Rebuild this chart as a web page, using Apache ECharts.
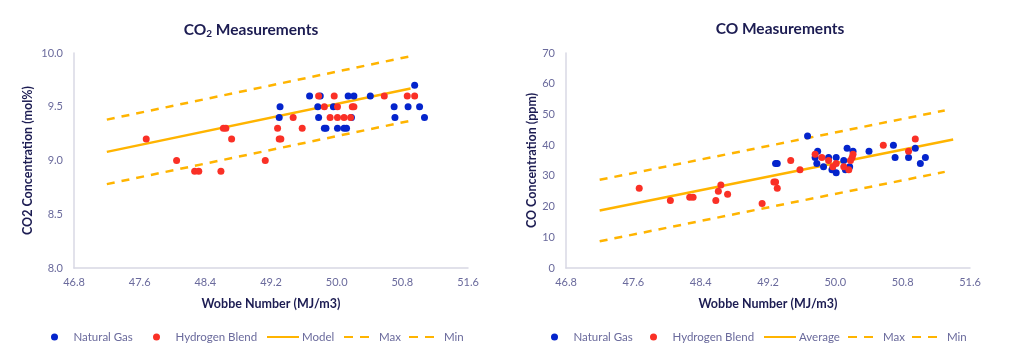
<!DOCTYPE html>
<html>
<head>
<meta charset="utf-8">
<script src="https://cdn.jsdelivr.net/npm/echarts@6/dist/echarts.min.js"></script>
<style>
html,body{margin:0;padding:0;background:#fff;}
#chart{width:1012px;height:361px;}
</style>
</head>
<body>
<div id="chart"></div>
<script>
// ---- Data ----
const xTicks = [46.8, 47.6, 48.4, 49.2, 50.0, 50.8, 51.6];

// CO2 chart
const co2NaturalGas = [
  [49.31,9.5],[49.30,9.4],[49.67,9.6],[49.80,9.6],[49.77,9.5],[49.78,9.4],[49.85,9.3],[49.87,9.3],
  [49.96,9.5],[50.01,9.3],[50.09,9.3],[50.12,9.3],[50.14,9.6],[50.21,9.6],[50.18,9.4],[50.41,9.6],
  [50.70,9.5],[50.71,9.4],[50.87,9.5],[50.95,9.7],[51.01,9.5],[51.07,9.4]
];
const co2HydrogenBlend = [
  [47.68,9.2],[48.05,9.0],[48.27,8.9],[48.32,8.9],[48.59,8.9],[48.62,9.3],[48.65,9.3],[48.72,9.2],
  [49.13,9.0],[49.28,9.3],[49.30,9.2],[49.32,9.2],[49.47,9.4],[49.58,9.3],[49.78,9.6],[49.85,9.5],
  [49.92,9.4],[49.97,9.6],[50.01,9.5],[50.01,9.4],[50.09,9.4],[50.17,9.4],[50.19,9.5],[50.21,9.5],
  [50.58,9.6],[50.86,9.6],[50.95,9.6]
];
const co2LineX = [47.2, 50.9];
const co2Model = [9.08, 9.67];
const co2Max = [9.38, 9.97];
const co2Min = [8.78, 9.37];

// CO chart
const coNaturalGas = [
  [49.29,34],[49.31,34],[49.67,43],[49.76,36],[49.79,38],[49.78,34],[49.86,33],[49.92,36],
  [49.96,32],[50.01,36],[50.01,31],[50.10,35],[50.12,32],[50.14,39],[50.17,33],[50.21,38],
  [50.40,38],[50.69,40],[50.71,36],[50.87,36],[50.95,39],[51.01,34],[51.07,36]
];
const coHydrogenBlend = [
  [47.67,26],[48.04,22],[48.27,23],[48.31,23],[48.58,22],[48.61,25],[48.64,27],[48.72,24],
  [49.13,21],[49.27,28],[49.29,28],[49.31,26],[49.47,35],[49.58,32],[49.76,37],[49.84,36],
  [49.92,35],[49.97,33],[50.01,34],[50.10,33],[50.16,32],[50.18,35],[50.20,36],[50.21,37],
  [50.57,40],[50.87,38],[50.95,42]
];
const coAvgX = [47.2, 51.4];
const coAverage = [18.7, 41.85];
const coBandX = [47.2, 51.3];
const coMax = [28.7, 51.3];
const coMin = [8.7, 31.3];

// ---- Styling ----
const FONT = 'Lato';
const BLUE = '#0424CC';
const RED = '#FA3026';
const GOLD = '#FFB400';
const LABEL = '#6A6A9C';
const NAVY = '#1C1C52';
const AXIS = '#D8D8E4';

function pairs(xs, ys){ return xs.map((x,i)=>[x, ys[i]]); }

function xAxisCfg(gi){
  return {
    type:'value', gridIndex:gi, min:46.8, max:51.6,
    name:'Wobbe Number (MJ/m3)', nameLocation:'middle', nameGap:29,
    nameTextStyle:{fontFamily:FONT, fontSize:12.5, fontWeight:'bold', color:NAVY},
    axisLine:{show:true, lineStyle:{color:AXIS, width:1.5}},
    axisTick:{show:false},
    splitLine:{show:false},
    axisLabel:{customValues:xTicks, formatter:v=>v.toFixed(1), color:LABEL, fontFamily:FONT, fontSize:11, margin:9}
  };
}

const scatterCommon = {type:'scatter', symbolSize:7, z:3};
const lineCommon = {type:'line', symbol:'none', z:2, silent:true};

// one legend component per entry, so each entry sits where the reference has it
function legendItem(left, name, kind){
  const cfg = {
    left:left, top:331, padding:0, itemWidth:32, itemHeight:7,
    textStyle:{fontFamily:FONT, fontSize:11.5, color:LABEL, padding:[0,0,0,-2]},
    selectedMode:false
  };
  if (kind === 'dot') {
    cfg.data = [{name:name, icon:'circle'}];
  } else {
    cfg.data = [{name:name, itemStyle:{opacity:0}}];
    if (kind === 'dash') cfg.lineStyle = {type:[9,7]};
  }
  return cfg;
}

const option = {
  animation:false,
  backgroundColor:'#fff',
  title:[
    {text:'CO{s|2} Measurements', left:246, top:16, textAlign:'center',
     textStyle:{fontFamily:FONT, fontSize:15.5, fontWeight:'bold', color:NAVY,
       rich:{s:{fontFamily:FONT, fontSize:10, fontWeight:'bold', color:NAVY, verticalAlign:'bottom', padding:[8,0,0,0]}}}},
    {text:'CO Measurements', left:775, top:16, textAlign:'center',
     textStyle:{fontFamily:FONT, fontSize:15.5, fontWeight:'bold', color:NAVY}}
  ],
  legend:[
    legendItem(51, 'Natural Gas', 'dot'),
    legendItem(153, 'Hydrogen Blend', 'dot'),
    legendItem(266, 'Model', 'solid'),
    legendItem(343, 'Max', 'dash'),
    legendItem(408, 'Min', 'dash'),
    legendItem(551, 'Natural Gas', 'dot'),
    legendItem(650, 'Hydrogen Blend', 'dot'),
    legendItem(763, 'Average', 'solid'),
    legendItem(847, 'Max', 'dash'),
    legendItem(911, 'Min', 'dash')
  ],
  grid:[
    {left:74, top:53, width:394, height:215},
    {left:566, top:53, width:404, height:215}
  ],
  xAxis:[xAxisCfg(0), xAxisCfg(1)],
  yAxis:[
    {type:'value', gridIndex:0, min:8, max:10, interval:0.5,
     name:'CO2 Concentration (mol%)', nameLocation:'middle', nameGap:40,
     nameTextStyle:{fontFamily:FONT, fontSize:12.5, fontWeight:'bold', color:NAVY},
     axisLine:{show:true, lineStyle:{color:AXIS, width:1.5}}, axisTick:{show:false}, splitLine:{show:false},
     axisLabel:{formatter:v=>v.toFixed(1), color:LABEL, fontFamily:FONT, fontSize:11, margin:11}},
    {type:'value', gridIndex:1, min:0, max:70, interval:10,
     name:'CO Concentration (ppm)', nameLocation:'middle', nameGap:25,
     nameTextStyle:{fontFamily:FONT, fontSize:12.5, fontWeight:'bold', color:NAVY},
     axisLine:{show:true, lineStyle:{color:AXIS, width:1.5}}, axisTick:{show:false}, splitLine:{show:false},
     axisLabel:{color:LABEL, fontFamily:FONT, fontSize:11, margin:11}}
  ],
  series:[
    Object.assign({}, lineCommon, {name:'Model', xAxisIndex:0, yAxisIndex:0, data:pairs(co2LineX, co2Model),
      lineStyle:{color:GOLD, width:2.5}, itemStyle:{color:GOLD}}),
    Object.assign({}, lineCommon, {name:'Max', xAxisIndex:0, yAxisIndex:0, data:pairs(co2LineX, co2Max),
      lineStyle:{color:GOLD, width:2.5, type:[8,7]}, itemStyle:{color:GOLD}}),
    Object.assign({}, lineCommon, {name:'Min', xAxisIndex:0, yAxisIndex:0, data:pairs(co2LineX, co2Min),
      lineStyle:{color:GOLD, width:2.5, type:[8,7]}, itemStyle:{color:GOLD}}),
    Object.assign({}, scatterCommon, {name:'Natural Gas', xAxisIndex:0, yAxisIndex:0, data:co2NaturalGas, itemStyle:{color:BLUE, opacity:1}}),
    Object.assign({}, scatterCommon, {name:'Hydrogen Blend', xAxisIndex:0, yAxisIndex:0, data:co2HydrogenBlend, itemStyle:{color:RED, opacity:1}}),

    Object.assign({}, lineCommon, {name:'Average', xAxisIndex:1, yAxisIndex:1, data:pairs(coAvgX, coAverage),
      lineStyle:{color:GOLD, width:2.5}, itemStyle:{color:GOLD}}),
    Object.assign({}, lineCommon, {name:'Max', xAxisIndex:1, yAxisIndex:1, data:pairs(coBandX, coMax),
      lineStyle:{color:GOLD, width:2.5, type:[8,7]}, itemStyle:{color:GOLD}}),
    Object.assign({}, lineCommon, {name:'Min', xAxisIndex:1, yAxisIndex:1, data:pairs(coBandX, coMin),
      lineStyle:{color:GOLD, width:2.5, type:[8,7]}, itemStyle:{color:GOLD}}),
    Object.assign({}, scatterCommon, {name:'Natural Gas', xAxisIndex:1, yAxisIndex:1, data:coNaturalGas, itemStyle:{color:BLUE, opacity:1}}),
    Object.assign({}, scatterCommon, {name:'Hydrogen Blend', xAxisIndex:1, yAxisIndex:1, data:coHydrogenBlend, itemStyle:{color:RED, opacity:1}})
  ]
};

const chart = echarts.init(document.getElementById('chart'), null, {renderer:'canvas'});
chart.setOption(option);
</script>
</body>
</html>
